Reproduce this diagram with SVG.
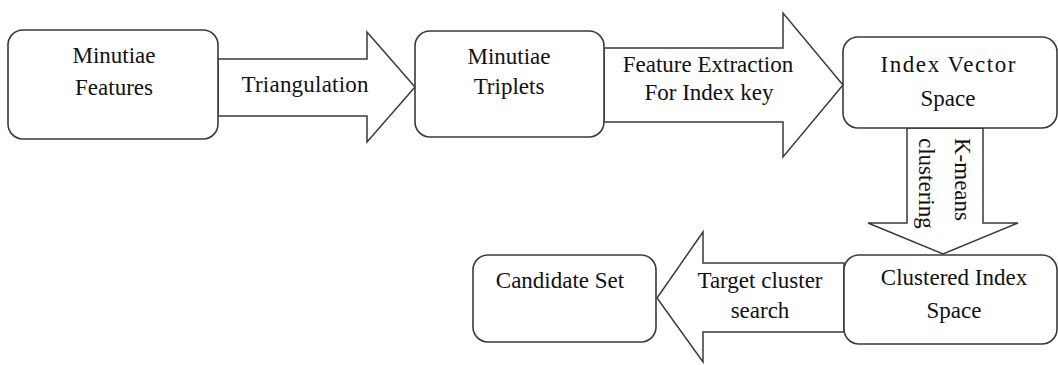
<svg xmlns="http://www.w3.org/2000/svg" width="1058" height="365" viewBox="0 0 1058 365">
<style>
.box{fill:#fff;stroke:#3a3a3a;stroke-width:1.6}
.arr{fill:#fff;stroke:#3a3a3a;stroke-width:1.5;stroke-linejoin:miter}
text{font-family:"Liberation Serif","Times New Roman",serif;font-size:23px;fill:#111}
.c{text-anchor:middle}
</style>
<rect width="1058" height="365" fill="#fff"/>
<g id="connectors">
<polygon class="arr" points="218,59 367,59 367,32 415,87 367,142 367,116 218,116"/>
<polygon class="arr" points="604,48 783,48 783,13 843,85 783,157 783,122 604,122"/>
<polygon class="arr" points="907,128 907,223 868,223 943,254 1018,223 983,223 983,128"/>
<polygon class="arr" points="844,263 703,263 703,232 657,298 703,362 703,332 844,332"/>
<text class="c" x="305" y="92" textLength="127" lengthAdjust="spacing">Triangulation</text>
<text class="c" x="708" y="72">Feature Extraction</text>
<text class="c" x="709" y="100">For Index key</text>
<text transform="translate(955,138) rotate(90)" x="0" y="0">K-means</text>
<text transform="translate(919,138) rotate(90)" x="0" y="0">clustering</text>
<text class="c" x="760" y="288">Target cluster</text>
<text class="c" x="760" y="318">search</text>
</g>
<g id="node-minutiae-features">
<rect class="box" x="8" y="30" width="210" height="109" rx="15"/>
<text class="c" x="114" y="63">Minutiae</text>
<text class="c" x="114" y="95">Features</text>
</g>
<g id="node-minutiae-triplets">
<rect class="box" x="415" y="31" width="189" height="106" rx="15"/>
<text class="c" x="509" y="64">Minutiae</text>
<text class="c" x="509" y="94">Triplets</text>
</g>
<g id="node-index-vector-space">
<rect class="box" x="843" y="37" width="214" height="91" rx="15"/>
<text class="c" x="948" y="72" textLength="135" lengthAdjust="spacing">Index Vector</text>
<text class="c" x="948" y="106">Space</text>
</g>
<g id="node-clustered-index-space">
<rect class="box" x="844" y="255" width="213" height="89" rx="15"/>
<text class="c" x="954" y="285">Clustered Index</text>
<text class="c" x="954" y="318">Space</text>
</g>
<g id="node-candidate-set">
<rect class="box" x="473" y="255" width="183" height="87" rx="15"/>
<text class="c" x="560" y="288">Candidate Set</text>
</g>
</svg>
